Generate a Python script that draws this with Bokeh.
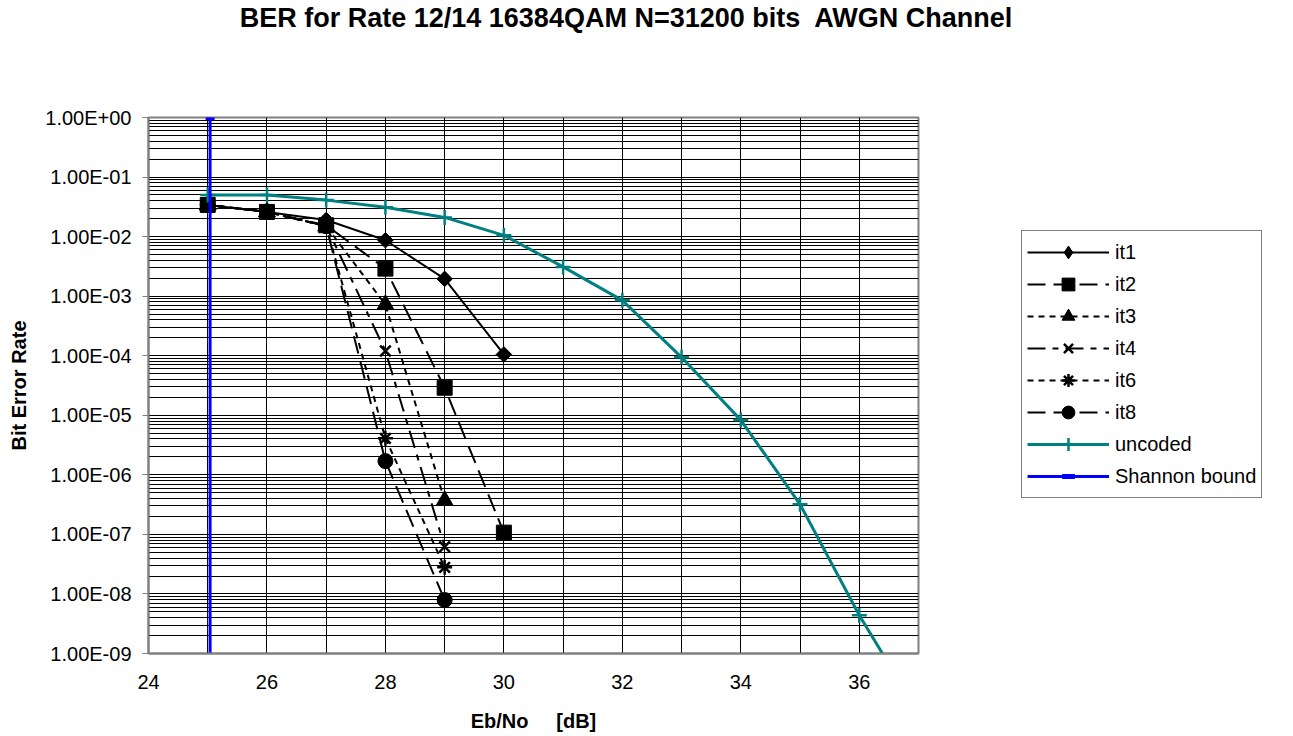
from bokeh.plotting import figure
from bokeh.models import (Range1d, FixedTicker, CustomJSTickFormatter, Legend,
                          LegendItem, Div)
from bokeh.layouts import column
from bokeh.embed import file_html
from bokeh.resources import INLINE

# ---------------- data ----------------
title_text = "BER for Rate 12/14 16384QAM N=31200 bits\u00a0 AWGN Channel"
x_label = "Eb/No\u00a0\u00a0\u00a0\u00a0 [dB]"
y_label = "Bit Error Rate"

ebno_it1 = [25, 26, 27, 28, 29, 30]
ber_it1 = [3.4e-2, 2.6e-2, 1.9e-2, 8.7e-3, 1.95e-3, 1.05e-4]

ebno_it2 = [25, 26, 27, 28, 29, 30]
ber_it2 = [3.4e-2, 2.6e-2, 1.55e-2, 2.9e-3, 2.9e-5, 1.07e-7]

ebno_it3 = [25, 26, 27, 28, 29]
ber_it3 = [3.4e-2, 2.6e-2, 1.5e-2, 7.2e-4, 3.7e-7]

ebno_it4 = [25, 26, 27, 28, 29]
ber_it4 = [3.4e-2, 2.6e-2, 1.5e-2, 1.2e-4, 6.2e-8]

ebno_it6 = [25, 26, 27, 28, 29]
ber_it6 = [3.4e-2, 2.6e-2, 1.5e-2, 4.1e-6, 2.8e-8]

ebno_it8 = [25, 26, 27, 28, 29]
ber_it8 = [3.4e-2, 2.6e-2, 1.5e-2, 1.7e-6, 7.9e-9]

ebno_unc = [25, 26, 27, 28, 29, 30, 31, 32, 33, 34, 35, 36, 37]
ber_unc = [5.0e-2, 5.0e-2, 4.1e-2, 3.1e-2, 2.1e-2, 1.05e-2, 3.1e-3, 8.5e-4,
           9.4e-5, 8.3e-6, 3.2e-7, 4.4e-9, 1.0e-10]

ebno_shannon = [25.04, 25.04]
ber_shannon = [1.0, 1.0e-10]

x_ticks = [24, 26, 28, 30, 32, 34, 36]
x_grid = list(range(24, 38))
y_decades = list(range(-9, 1))

FONT = "Liberation Sans"
TITLE_H = 36

# ---------------- title ----------------
title_div = Div(text=title_text, width=1252, height=TITLE_H, margin=(0, 0, 0, 0),
                styles={"font-family": FONT, "font-size": "27px",
                        "font-weight": "bold", "text-align": "center",
                        "line-height": "%dpx" % TITLE_H, "color": "black",
                        "white-space": "pre", "width": "1252px"})

# ---------------- figure ----------------
p = figure(frame_width=770, frame_height=536, y_axis_type="log",
           x_range=Range1d(24, 37), y_range=Range1d(1e-9, 1.0),
           output_backend="svg", toolbar_location=None,
           min_border_left=148, min_border_right=0,
           min_border_top=81, min_border_bottom=0, margin=(0, 0, 0, 0))
p.background_fill_color = "white"
p.border_fill_color = "white"
p.outline_line_color = "#808080"
p.outline_line_width = 2

# x axis
p.xaxis.ticker = FixedTicker(ticks=x_ticks, minor_ticks=x_grid)
p.xaxis.axis_line_color = "#808080"
p.xaxis.axis_line_width = 2
p.xaxis.major_tick_out = 0
p.xaxis.major_tick_in = 0
p.xaxis.minor_tick_out = 0
p.xaxis.minor_tick_in = 0
p.xaxis.major_label_text_font = FONT
p.xaxis.major_label_text_font_size = "20px"
p.xaxis.major_label_text_color = "black"
p.xaxis.major_label_standoff = 21
p.xaxis.axis_label = x_label
p.xaxis.axis_label_text_font = FONT
p.xaxis.axis_label_text_font_size = "20px"
p.xaxis.axis_label_text_font_style = "bold"
p.xaxis.axis_label_text_color = "black"
p.xaxis.axis_label_standoff = 18

# y axis
y_major = [10.0 ** e for e in y_decades]
y_minor = [m * 10.0 ** e for e in y_decades[:-1] for m in range(2, 10)]
p.yaxis.ticker = FixedTicker(ticks=y_major, minor_ticks=y_minor)
p.yaxis.formatter = CustomJSTickFormatter(code="""
const e = Math.round(Math.log10(tick));
const s = e < 0 ? '-' : '+';
const a = Math.abs(e);
return '1.00E' + s + (a < 10 ? '0' + a : '' + a);
""")
p.yaxis.axis_line_color = "#808080"
p.yaxis.axis_line_width = 2
p.yaxis.major_tick_out = 6
p.yaxis.major_tick_in = 0
p.yaxis.major_tick_line_color = "#808080"
p.yaxis.minor_tick_out = 0
p.yaxis.minor_tick_in = 0
p.yaxis.major_label_text_font = FONT
p.yaxis.major_label_text_font_size = "20px"
p.yaxis.major_label_text_color = "black"
p.yaxis.major_label_standoff = 11
p.yaxis.axis_label = y_label
p.yaxis.axis_label_text_font = FONT
p.yaxis.axis_label_text_font_size = "20px"
p.yaxis.axis_label_text_font_style = "bold"
p.yaxis.axis_label_text_color = "black"
p.yaxis.axis_label_standoff = 12

# grids
for g in (p.xgrid, p.ygrid):
    g.grid_line_color = "black"
    g.grid_line_width = 1
    g.minor_grid_line_color = "black"
    g.minor_grid_line_width = 1

# ---------------- series ----------------
LW = 2

l1 = p.line(ebno_it1, ber_it1, line_color="black", line_width=LW)
# legend swatch (legend ignores marker rotation); it sits under the it2 square
m1_key = p.scatter(ebno_it1[:1], ber_it1[:1], marker="diamond", size=12,
                   fill_color="black", line_color="black")
m1 = p.scatter(ebno_it1, ber_it1, marker="square", angle=0.785398, size=11,
               fill_color="black", line_color="black")

def dashed(xs, ys, dash, marker, size, lw_marker=1):
    ln = p.line(xs, ys, line_color="black", line_width=LW, line_dash=dash)
    mk = p.scatter(xs, ys, marker=marker, size=size, fill_color="black",
                   line_color="black", line_width=lw_marker)
    return ln, mk

l3, m3 = dashed(ebno_it3, ber_it3, "6 5", "triangle", 17)
l4, m4 = dashed(ebno_it4, ber_it4, "18 7 6 7", "x", 15, 2.5)
l6, m6 = dashed(ebno_it6, ber_it6, "6 5", "asterisk", 15, 2.5)
l8, m8 = dashed(ebno_it8, ber_it8, "18 8", "circle", 15)
l2, m2 = dashed(ebno_it2, ber_it2, "18 8", "square", 15)

lu = p.line(ebno_unc, ber_unc, line_color="#008080", line_width=3)
mu = p.scatter(ebno_unc, ber_unc, marker="cross", size=15,
               line_color="#008080", line_width=2.5)

ls = p.line(ebno_shannon, ber_shannon, line_color="#0000FF", line_width=3)
ms = p.scatter(ebno_shannon, ber_shannon, marker="dash", size=9,
               line_color="#0000FF", line_width=5)

legend = Legend(items=[
    LegendItem(label="it1", renderers=[l1, m1_key]),
    LegendItem(label="it2", renderers=[l2, m2]),
    LegendItem(label="it3", renderers=[l3, m3]),
    LegendItem(label="it4", renderers=[l4, m4]),
    LegendItem(label="it6", renderers=[l6, m6]),
    LegendItem(label="it8", renderers=[l8, m8]),
    LegendItem(label="uncoded", renderers=[lu, mu]),
    LegendItem(label="Shannon bound", renderers=[ls, ms]),
], location=(103, 155))
legend.glyph_width = 82
legend.glyph_height = 32
legend.label_height = 32
legend.label_standoff = 6
legend.spacing = 0
legend.padding = 5
legend.margin = 0
legend.label_text_font = FONT
legend.label_text_font_size = "20px"
legend.label_text_color = "black"
legend.border_line_color = "black"
legend.border_line_width = 1
legend.background_fill_color = "white"
legend.background_fill_alpha = 1
p.add_layout(legend, "right")

layout = column(title_div, p, spacing=0)
open("out.html", "w").write(file_html(layout, INLINE))
